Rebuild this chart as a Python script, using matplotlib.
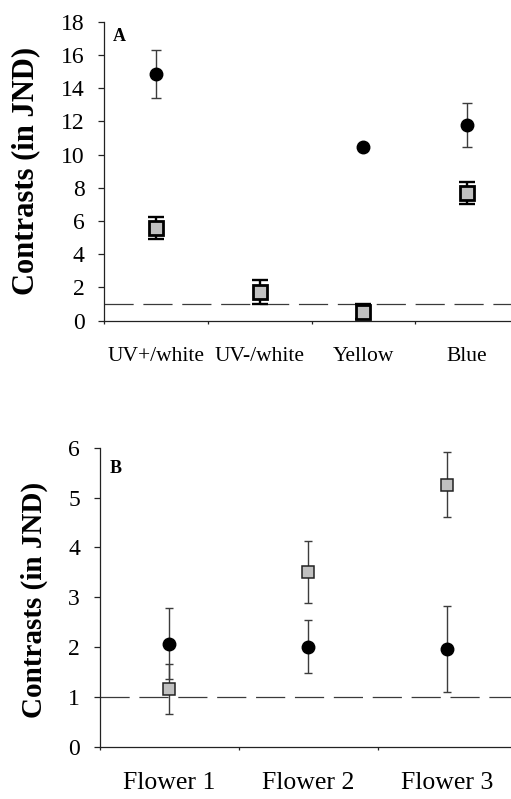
import matplotlib
matplotlib.use("Agg")
import matplotlib.pyplot as plt
import numpy as np

plt.rcParams['font.family'] = ['Liberation Serif', 'DejaVu Serif']
plt.rcParams['lines.scale_dashes'] = False

# Panel A: colour categories
cats_a = ["UV+/white", "UV-/white", "Yellow", "Blue"]
circ_a_idx = [0, 2, 3]
circ_a = [14.85, 10.45, 11.78]
circ_a_lo = [13.40, 10.45, 10.45]
circ_a_hi = [16.30, 10.45, 13.12]
sq_a = [5.58, 1.73, 0.54, 7.70]
sq_a_lo = [4.92, 1.00, 0.08, 7.03]
sq_a_hi = [6.25, 2.45, 1.00, 8.37]

# Panel B: flowers
cats_b = ["Flower 1", "Flower 2", "Flower 3"]
circ_b = [2.07, 2.01, 1.97]
circ_b_lo = [1.35, 1.47, 1.09]
circ_b_hi = [2.78, 2.55, 2.82]
sq_b = [1.16, 3.51, 5.26]
sq_b_lo = [0.66, 2.89, 4.60]
sq_b_hi = [1.66, 4.13, 5.92]

threshold = 1.0
yticks_a = [0, 2, 4, 6, 8, 10, 12, 14, 16, 18]
yticks_b = [0, 1, 2, 3, 4, 5, 6]

W, H = 511, 799
fig = plt.figure(figsize=(W / 100, H / 100), dpi=100)

ax_a = fig.add_axes([104 / W, 1 - 320.7 / H, 415 / W, 299 / H])
ax_b = fig.add_axes([99.5 / W, 1 - 746.7 / H, 417 / W, 299 / H])

grey_line = '#3c3c3c'
sq_fill = '#c0c0c0'


def yerr(vals, lo, hi):
    v = np.asarray(vals)
    return np.vstack([v - np.asarray(lo), np.asarray(hi) - v])


def style_axes(ax, cats, yticks, ymax, cat_size, cat_pad, label_size):
    n = len(cats)
    ax.set_xlim(-0.5, n - 0.5)
    ax.set_ylim(0, ymax)
    for s in ['top', 'right']:
        ax.spines[s].set_visible(False)
    for s in ['left', 'bottom']:
        ax.spines[s].set_linewidth(0.9)
        ax.spines[s].set_color('#222222')
    ax.set_xticks(range(n))
    ax.set_xticklabels(cats, fontsize=cat_size)
    ax.set_xticks(np.arange(n + 1) - 0.5, minor=True)
    ax.tick_params(axis='x', which='major', length=0, pad=cat_pad)
    ax.tick_params(axis='x', which='minor', length=2.5, width=0.9, direction='out', color='#222222')
    ax.set_yticks(yticks)
    ax.tick_params(axis='y', length=4, width=0.9, direction='out', labelsize=17, pad=10, color='#222222')
    ax.axhline(threshold, color='#3a3a3a', lw=0.9, linestyle=(0, (21, 7)), zorder=1, clip_on=False)
    ax.set_ylabel("Contrasts (in JND)", fontsize=label_size, fontweight='bold')


# ---- Panel A ----
ax = ax_a
ax.errorbar(circ_a_idx, circ_a, yerr=yerr(circ_a, circ_a_lo, circ_a_hi), fmt='none',
            ecolor=grey_line, elinewidth=1.0, capsize=3.3, capthick=1.0, zorder=2)
ax.errorbar(range(len(sq_a)), sq_a, yerr=yerr(sq_a, sq_a_lo, sq_a_hi), fmt='none',
            ecolor='black', elinewidth=1.7, capsize=6, capthick=1.7, zorder=2, clip_on=False)
ax.plot(circ_a_idx, circ_a, 'o', color='black', ms=9, zorder=3)
ax.plot(range(len(sq_a)), sq_a, 's', mfc=sq_fill, mec='black', mew=2.0, ms=10.5, zorder=3, clip_on=False)
style_axes(ax, cats_a, yticks_a, 18, 15.5, 19, 22)
ax.yaxis.set_label_coords(-0.154, 0.5)
ax.text(0.022, 0.979, "A", transform=ax.transAxes, fontsize=13, fontweight='bold',
        ha='left', va='top')

# ---- Panel B ----
ax = ax_b
ax.errorbar(range(len(circ_b)), circ_b, yerr=yerr(circ_b, circ_b_lo, circ_b_hi), fmt='none',
            ecolor=grey_line, elinewidth=1.0, capsize=3, capthick=1.0, zorder=2)
ax.errorbar(range(len(sq_b)), sq_b, yerr=yerr(sq_b, sq_b_lo, sq_b_hi), fmt='none',
            ecolor=grey_line, elinewidth=1.0, capsize=3, capthick=1.0, zorder=2)
ax.plot(range(len(circ_b)), circ_b, 'o', color='black', ms=9, zorder=3)
ax.plot(range(len(sq_b)), sq_b, 's', mfc=sq_fill, mec='#222222', mew=1.1, ms=8.5, zorder=3)
style_axes(ax, cats_b, yticks_b, 6, 18.5, 18, 21)
ax.yaxis.set_label_coords(-0.124, 0.49)
ax.text(0.025, 0.959, "B", transform=ax.transAxes, fontsize=13, fontweight='bold',
        ha='left', va='top')

fig.savefig("out.png", dpi=100)
